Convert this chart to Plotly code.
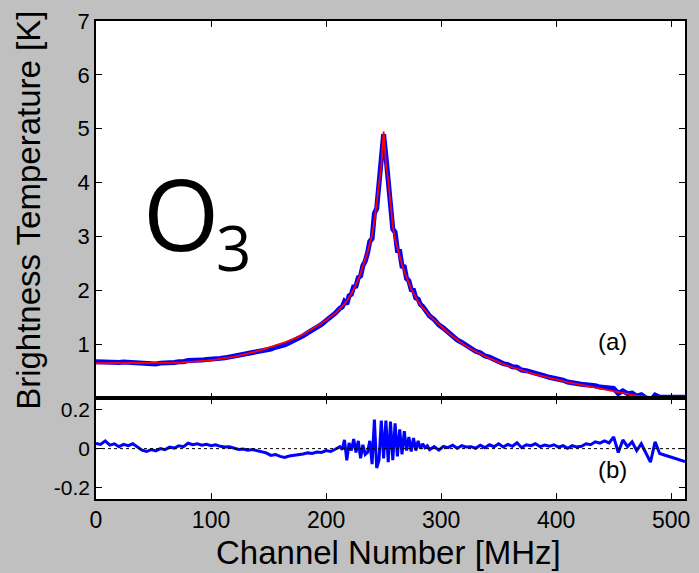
import plotly.graph_objects as go

# ---------------- data ----------------
channels_a = [0, 4, 8, 12, 16, 20, 24, 28, 32, 36, 40, 44, 48, 52, 56, 60, 64, 68, 72, 76,
              80, 84, 88, 92, 96, 100, 104, 108, 112, 116, 120, 124, 128, 132, 136, 140,
              144, 148, 152, 156, 160, 164, 168, 172, 176, 180, 184, 188, 192, 196, 200,
              204, 208, 212]
channels_b = [214, 216, 218, 220, 222, 224, 226, 228, 230, 232, 234, 236, 238, 240, 242,
              244, 246, 248, 250, 252, 254, 256, 258, 260, 262, 264, 266, 268, 270, 272,
              274, 276, 278, 280, 282, 284, 286, 288, 290]
channels_c = [294, 298, 302, 306, 310, 314, 318, 322, 326, 330, 334, 338, 342, 346, 350,
              354, 358, 362, 366, 370, 374, 378, 382, 386, 390, 394, 398, 402, 406, 410,
              414, 418, 422, 426, 430, 434, 438, 442, 446, 450, 454, 458, 462, 466, 470,
              474, 478, 482, 486, 490, 494, 498, 502, 506, 510, 512]

fit_a = [0.650, 0.650, 0.650, 0.650, 0.652, 0.652, 0.650, 0.650, 0.648, 0.648, 0.648, 0.650,
         0.650, 0.650, 0.652, 0.655, 0.657, 0.660, 0.663, 0.667, 0.672, 0.678, 0.684, 0.690,
         0.697, 0.705, 0.716, 0.728, 0.742, 0.757, 0.772, 0.790, 0.808, 0.828, 0.850, 0.873,
         0.897, 0.922, 0.948, 0.976, 1.005, 1.036, 1.068, 1.102, 1.140, 1.185, 1.235, 1.285,
         1.330, 1.390, 1.450, 1.510, 1.580, 1.660]
fit_b = [1.70, 1.75, 1.81, 1.87, 1.94, 2.02, 2.10, 2.20, 2.32, 2.44, 2.57, 2.71, 2.87, 3.04,
         3.28, 3.62, 3.98, 4.32, 4.95, 4.35, 4.05, 3.55, 3.20, 2.95, 2.78, 2.63, 2.48, 2.35,
         2.23, 2.12, 2.03, 1.95, 1.87, 1.80, 1.74, 1.68, 1.63, 1.58, 1.53]
fit_c = [1.45, 1.37, 1.29, 1.22, 1.15, 1.08, 1.02, 0.965, 0.915, 0.870, 0.825, 0.782, 0.742,
         0.705, 0.668, 0.635, 0.603, 0.573, 0.545, 0.518, 0.492, 0.467, 0.443, 0.420, 0.398,
         0.377, 0.357, 0.338, 0.319, 0.300, 0.282, 0.265, 0.248, 0.231, 0.214, 0.197, 0.180,
         0.163, 0.146, 0.125, 0.108, 0.092, 0.076, 0.062, 0.050, 0.040, 0.032, 0.027, 0.025,
         0.045, 0.053, 0.061, 0.069, 0.077, 0.084, 0.087]

resid_a = [0.027, 0.022, 0.040, 0.018, 0.025, 0.010, 0.022, 0.015, 0.025, 0.008, -0.008,
           -0.015, -0.005, -0.012, 0.000, -0.005, 0.008, 0.003, 0.015, 0.010, 0.028, 0.020,
           0.025, 0.018, 0.022, 0.015, 0.020, 0.012, 0.008, 0.010, 0.002, -0.004, -0.002,
           -0.008, -0.005, -0.012, -0.015, -0.022, -0.035, -0.030, -0.040, -0.045, -0.038,
           -0.035, -0.030, -0.028, -0.022, -0.025, -0.018, -0.020, -0.010, -0.015, -0.003,
           0.010]
resid_b = [-0.005, 0.045, -0.060, 0.030, -0.010, 0.050, -0.020, 0.040, -0.050, 0.020, -0.030,
           -0.020, 0.040, -0.080, 0.150, -0.100, -0.060, 0.145, -0.050, 0.145, -0.070, 0.140,
           -0.060, 0.130, -0.040, 0.100, -0.030, 0.090, -0.010, 0.060, -0.015, 0.055, -0.010,
           0.040, 0.000, 0.025, 0.005, 0.015, -0.005]
resid_c = [0.010, -0.008, 0.012, 0.005, 0.018, 0.002, 0.015, 0.008, 0.010, 0.002, 0.018,
           0.005, 0.020, 0.010, 0.025, 0.008, 0.022, 0.012, 0.030, 0.005, 0.020, 0.015, 0.025,
           0.010, 0.018, 0.012, 0.020, 0.008, 0.015, 0.002, 0.015, 0.008, 0.012, 0.025, 0.020,
           0.035, 0.028, 0.040, 0.030, 0.060, -0.020, 0.045, 0.010, 0.035, -0.010, 0.025,
           -0.025, -0.070, 0.035, -0.025, -0.033, -0.041, -0.049, -0.057, -0.064, -0.067]

fit_end_channel = 486

channels = channels_a + channels_b + channels_c
fit = fit_a + fit_b + fit_c
residual = resid_a + resid_b + resid_c
assert len(channels) == len(fit) == len(residual)
measured = [f + r for f, r in zip(fit, residual)]
fit_x = [c for c in channels if c <= fit_end_channel]
fit_y = [f for c, f in zip(channels, fit) if c <= fit_end_channel]

x_ticks = [0, 100, 200, 300, 400, 500]
y_ticks_top = [1, 2, 3, 4, 5, 6, 7]
y_ticks_bot = [-0.2, 0, 0.2]
y_ticktext_bot = ["-0.2", "0", "0.2"]

# ---------------- figure ----------------
BLUE = "#0000ff"
RED = "#ff0000"
FONT = "Liberation Sans, Arial, sans-serif"

fig = go.Figure()
fig.add_trace(go.Scatter(x=channels, y=measured, mode="lines",
                         line=dict(color=BLUE, width=5), xaxis="x", yaxis="y",
                         showlegend=False))
fig.add_trace(go.Scatter(x=fit_x, y=fit_y, mode="lines",
                         line=dict(color=RED, width=1.8), xaxis="x", yaxis="y",
                         showlegend=False))
fig.add_trace(go.Scatter(x=channels, y=residual, mode="lines",
                         line=dict(color=BLUE, width=3), xaxis="x2", yaxis="y2",
                         showlegend=False))

split = 102 / 484

axis_common = dict(showline=True, linecolor="black", linewidth=1.5, mirror="ticks",
                   ticks="inside", ticklen=6, tickwidth=1, tickcolor="black",
                   showgrid=False, zeroline=False)

fig.update_layout(
    width=699, height=573,
    margin=dict(l=96, r=9, t=15, b=74),
    paper_bgcolor="#c0c0c0", plot_bgcolor="white",
    font=dict(family=FONT, color="black"),
    xaxis=dict(domain=[0, 1], range=[0, 512], anchor="y", tickvals=x_ticks,
               showticklabels=False, **axis_common),
    yaxis=dict(domain=[split, 1], range=[0, 7], anchor="x", tickvals=y_ticks_top,
               tickfont=dict(size=22), **axis_common),
    xaxis2=dict(domain=[0, 1], range=[0, 512], anchor="y2", tickvals=x_ticks,
                tickfont=dict(size=23), **axis_common),
    yaxis2=dict(domain=[0, split], range=[-0.26, 0.26], anchor="x2",
                tickvals=y_ticks_bot, ticktext=y_ticktext_bot,
                tickfont=dict(size=21), **axis_common),
)

fig.add_shape(type="line", xref="x2 domain", yref="y2", x0=0, x1=1, y0=0, y1=0,
              line=dict(color="black", width=1, dash="dot"))

annotations = [
    dict(text="Channel Number [MHz]", xref="paper", yref="paper", x=0.4966,
         y=(499 - 553) / 484, xanchor="center", yanchor="middle", showarrow=False,
         font=dict(size=33)),
    dict(text="Brightness Temperature [K]", xref="paper", yref="paper",
         x=-68 / 594, y=0.604, xanchor="center", yanchor="middle", textangle=-90,
         showarrow=False, font=dict(size=33)),
    dict(text="O", xref="paper", yref="paper", x=(182 - 96) / 594, y=(499 - 209) / 484,
         xanchor="center", yanchor="middle", showarrow=False,
         font=dict(size=98, family="Open Sans")),
    dict(text="3", xref="paper", yref="paper", x=(235 - 96) / 594, y=(499 - 244) / 484,
         xanchor="center", yanchor="middle", showarrow=False,
         font=dict(size=62, family="Open Sans")),
    dict(text="(a)", xref="paper", yref="paper", x=(617 - 96) / 594, y=(499 - 340) / 484,
         xanchor="center", yanchor="middle", showarrow=False, font=dict(size=24)),
    dict(text="(b)", xref="paper", yref="paper", x=(617 - 96) / 594, y=(499 - 469) / 484,
         xanchor="center", yanchor="middle", showarrow=False, font=dict(size=24)),
]
fig.update_layout(annotations=annotations)

fig.write_html("out.html")
